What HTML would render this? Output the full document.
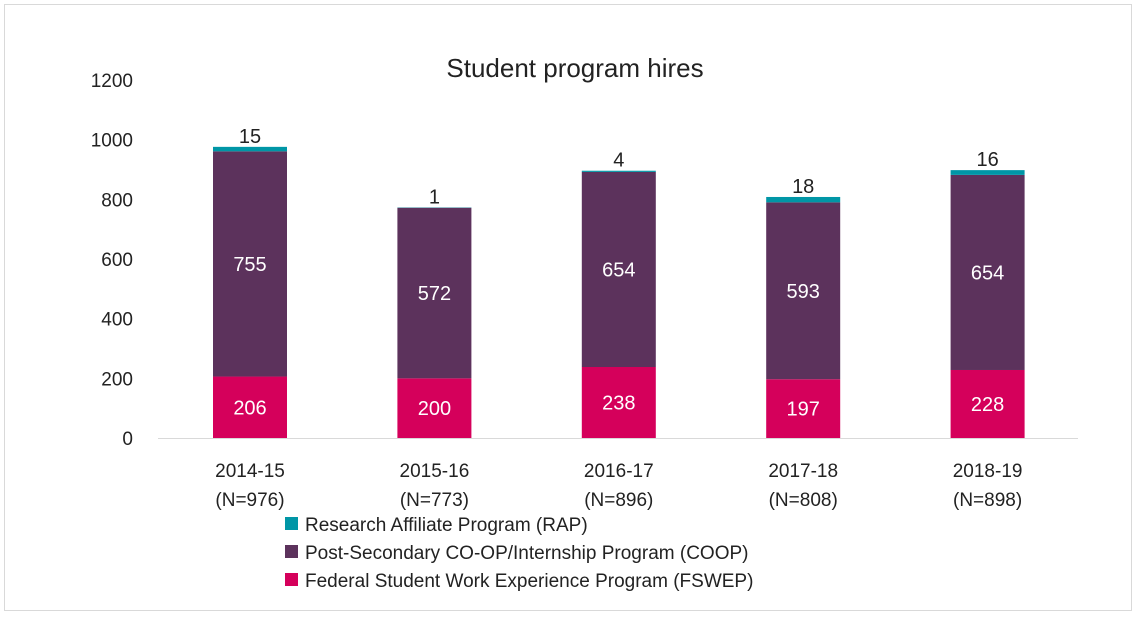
<!DOCTYPE html>
<html><head><meta charset="utf-8"><style>
body{margin:0;background:#fff}
svg text{font-family:"Liberation Sans",sans-serif;fill:#222}
</style></head><body>
<svg id="c" width="1138" height="616" xmlns="http://www.w3.org/2000/svg">
<rect x="4.5" y="4.5" width="1127" height="606" fill="#fff" stroke="#d9d9d9"/>
<text x="575" y="77" font-size="26" text-anchor="middle">Student program hires</text>
<g id="axis"></g><g id="bars"></g><g id="legend"></g>
</svg>
<script>
const categories=["2014-15","2015-16","2016-17","2017-18","2018-19"];
const totals=["(N=976)","(N=773)","(N=896)","(N=808)","(N=898)"];
const fswep=[206,200,238,197,228];
const coop=[755,572,654,593,654];
const rap=[15,1,4,18,16];
const yTicks=[0,200,400,600,800,1000,1200];
const NS="http://www.w3.org/2000/svg";
const y0=438,k=0.2983;
const y=v=>y0-v*k;
const x=i=>250+i*184.4;
const bw=74;
function mk(t,a,p){const e=document.createElementNS(NS,t);for(const n in a)e.setAttribute(n,a[n]);p.appendChild(e);return e;}
const ax=document.getElementById('axis');
yTicks.forEach(v=>{const t=mk('text',{x:133,y:y(v)+7,'font-size':19,'text-anchor':'end'},ax);t.textContent=v;

});
const bl=mk('line',{x1:158,x2:1078,y1:y0+0.5,y2:y0+0.5,stroke:'#d9d9d9'},ax);


const bg=document.getElementById('bars');
const series=[[fswep,'#d5005b','fswep'],[coop,'#5c325c','coop'],[rap,'#0096a6','rap']];
categories.forEach((c,i)=>{
 let base=0;
 series.forEach(([arr,col,nm],s)=>{
  const v=arr[i];
  const r=mk('rect',{x:x(i)-bw/2,y:y(base+v),width:bw,height:v*k,fill:col},bg);
  
  
  let t;
  if(s<2){t=mk('text',{x:x(i),y:y(base+v/2)+7,'font-size':20,'text-anchor':'middle',style:'fill:#fff'},bg);}
  else{t=mk('text',{x:x(i),y:y(base+v)-4,'font-size':20,'text-anchor':'middle'},bg);}
  t.textContent=v;
  
  
  base+=v;
 });
 const l1=mk('text',{x:x(i),y:477,'font-size':19,'text-anchor':'middle'},bg);l1.textContent=c;
 
 
 const l2=mk('text',{x:x(i),y:506,'font-size':19,'text-anchor':'middle'},bg);l2.textContent=totals[i];
 
 
});
const lg=document.getElementById('legend');
const items=[['Research Affiliate Program (RAP)','#0096a6'],['Post-Secondary CO-OP/Internship Program (COOP)','#5c325c'],['Federal Student Work Experience Program (FSWEP)','#d5005b']];
items.forEach(([n,col],j)=>{
 const cy=524+j*28;
 const r=mk('rect',{x:285,y:cy-7,width:13,height:13,fill:col},lg);
 
 
 const t=mk('text',{x:305,y:cy+7,'font-size':19},lg);t.textContent=n;
 
 
});
</script>
</body></html>
